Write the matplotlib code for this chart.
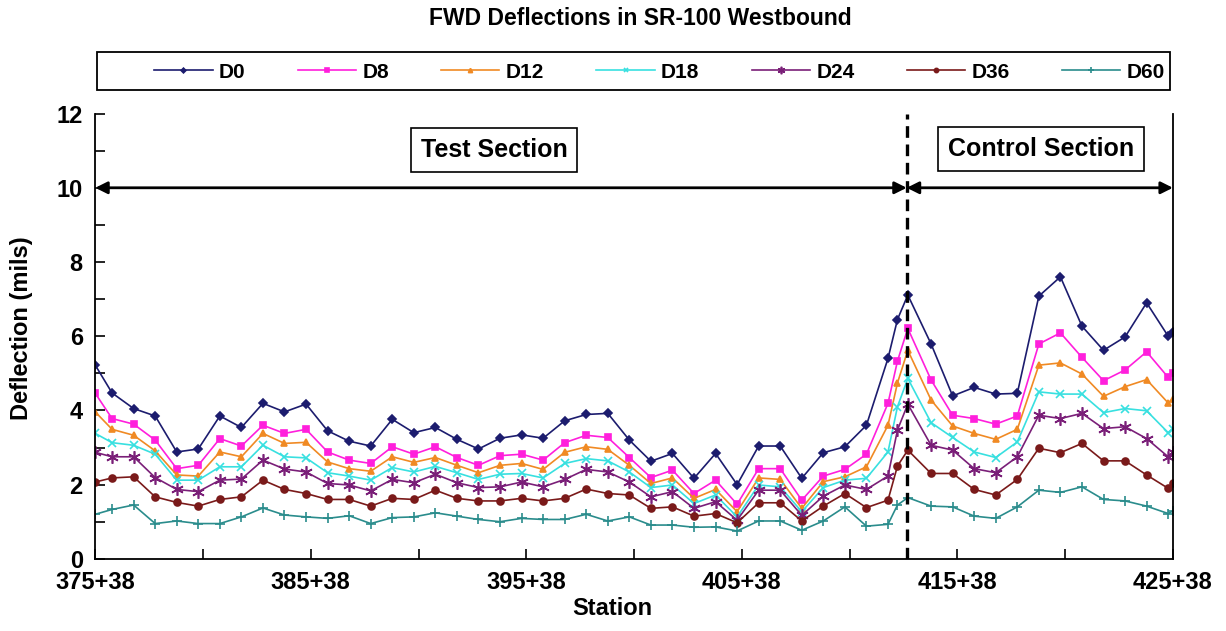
import matplotlib.pyplot as plt
from matplotlib.patches import Rectangle

plt.rcParams['font.family'] = ['Liberation Sans', 'DejaVu Sans']
plt.rcParams['font.weight'] = 'bold'

# station offsets from 375+38, in stations (100 ft)
station = [0.0, 0.78, 1.78, 2.78, 3.78, 4.78, 5.78, 6.78, 7.78, 8.78, 9.78,
           10.78, 11.78, 12.78, 13.78, 14.78, 15.78, 16.78, 17.78, 18.78, 19.78,
           20.78, 21.78, 22.78, 23.78, 24.78, 25.78, 26.78, 27.78, 28.78, 29.78,
           30.78, 31.78, 32.78, 33.78, 34.78, 35.78, 36.78, 37.22, 37.70, 38.78,
           39.78, 40.78, 41.78, 42.78, 43.78, 44.78, 45.78, 46.78, 47.78, 48.78,
           49.78, 50.0]

# deflections (mils) per sensor
d0 = [5.22, 4.47, 4.05, 3.85, 2.88, 2.96, 3.85, 3.54, 4.19,
      3.96, 4.17, 3.45, 3.17, 3.04, 3.76, 3.40, 3.54, 3.22,
      2.96, 3.25, 3.34, 3.25, 3.72, 3.89, 3.92, 3.20,
      2.63, 2.84, 2.17, 2.84, 2.00, 3.04, 3.04, 2.17,
      2.86, 3.02, 3.60, 5.40, 6.45, 7.11,
      5.79, 4.39, 4.62, 4.44,
      4.46, 7.08, 7.60, 6.27, 5.62, 5.98, 6.90, 6.00, 6.12]
d8 = [4.46, 3.78, 3.63, 3.20, 2.43, 2.52, 3.24, 3.04, 3.60,
      3.38, 3.49, 2.88, 2.66, 2.57, 3.02, 2.82, 3.02, 2.73,
      2.52, 2.78, 2.82, 2.66, 3.13, 3.33, 3.27, 2.73,
      2.19, 2.39, 1.76, 2.12, 1.47, 2.43, 2.43, 1.58,
      2.23, 2.41, 2.82, 4.19, 5.33, 6.21,
      4.82, 3.87, 3.78, 3.63,
      3.85, 5.79, 6.09, 5.43, 4.80, 5.09, 5.58, 4.89, 5.01]
d12 = [3.96, 3.49, 3.33, 2.91, 2.26, 2.23, 2.88, 2.75, 3.38,
       3.11, 3.14, 2.61, 2.43, 2.36, 2.75, 2.60, 2.73, 2.52,
       2.32, 2.52, 2.57, 2.41, 2.87, 3.02, 2.95, 2.52,
       2.03, 2.18, 1.63, 1.87, 1.27, 2.18, 2.14, 1.36,
       2.08, 2.21, 2.48, 3.60, 4.74, 5.62,
       4.28, 3.58, 3.38, 3.22,
       3.49, 5.22, 5.28, 4.98, 4.38, 4.64, 4.83, 4.20, 4.32]
d18 = [3.38, 3.13, 3.06, 2.82, 2.12, 2.12, 2.48, 2.48, 3.06,
       2.75, 2.72, 2.32, 2.23, 2.12, 2.46, 2.34, 2.49, 2.32,
       2.14, 2.28, 2.30, 2.18, 2.57, 2.70, 2.64, 2.34,
       1.92, 1.99, 1.49, 1.72, 1.13, 1.99, 1.94, 1.27,
       1.92, 2.12, 2.17, 2.88, 4.10, 4.86,
       3.67, 3.27, 2.88, 2.73,
       3.15, 4.50, 4.44, 4.44, 3.94, 4.05, 3.99, 3.40, 3.51]
d24 = [2.87, 2.75, 2.75, 2.19, 1.87, 1.81, 2.12, 2.15, 2.66,
       2.42, 2.34, 2.03, 1.99, 1.83, 2.14, 2.05, 2.28, 2.05,
       1.92, 1.94, 2.07, 1.94, 2.14, 2.41, 2.34, 2.07,
       1.67, 1.81, 1.36, 1.54, 1.04, 1.85, 1.85, 1.17,
       1.69, 1.99, 1.87, 2.23, 3.47, 4.17,
       3.06, 2.93, 2.43, 2.32,
       2.75, 3.87, 3.78, 3.92, 3.51, 3.56, 3.24, 2.75, 2.88]
d36 = [2.07, 2.18, 2.21, 1.67, 1.52, 1.42, 1.60, 1.67, 2.12,
       1.87, 1.76, 1.60, 1.60, 1.42, 1.63, 1.60, 1.85, 1.63,
       1.56, 1.56, 1.63, 1.56, 1.63, 1.88, 1.76, 1.72,
       1.36, 1.40, 1.15, 1.22, 0.97, 1.51, 1.51, 1.02,
       1.42, 1.76, 1.38, 1.58, 2.50, 2.93,
       2.30, 2.30, 1.87, 1.72,
       2.14, 2.98, 2.86, 3.11, 2.64, 2.64, 2.26, 1.90, 2.03]
d60 = [1.20, 1.33, 1.45, 0.95, 1.02, 0.95, 0.95, 1.13, 1.37,
       1.18, 1.13, 1.09, 1.16, 0.95, 1.11, 1.13, 1.24, 1.15,
       1.06, 1.00, 1.09, 1.06, 1.06, 1.20, 1.02, 1.13,
       0.91, 0.91, 0.85, 0.86, 0.75, 1.02, 1.02, 0.77,
       1.02, 1.40, 0.88, 0.93, 1.45, 1.65,
       1.42, 1.40, 1.15, 1.09,
       1.40, 1.85, 1.79, 1.94, 1.60, 1.56, 1.42, 1.22, 1.29]

sensor_names = ['D0', 'D8', 'D12', 'D18', 'D24', 'D36', 'D60']
tick_labels = ['375+38', '', '385+38', '', '395+38', '',
               '405+38', '', '415+38', '', '425+38']
section_break = 37.65

series = [
    (d0, '#1c1c6e', 'D', 4),
    (d8, '#ff1fdc', 's', 5),
    (d12, '#f08a24', '^', 5),
    (d18, '#38e0e0', 'x', 6),
    (d24, '#7a1f78', (6, 2, 0), 9),
    (d36, '#7a1a1a', 'o', 5),
    (d60, '#2a8c8c', '+', 7),
]

fig = plt.figure(figsize=(12.26, 6.31), dpi=100)
ax = fig.add_axes([0.0777, 0.1144, 0.879, 0.7056])

for (vals, color, marker, ms), name in zip(series, sensor_names):
    ax.plot(station, vals, color=color, marker=marker, markersize=ms,
            linewidth=1.2, markeredgewidth=1.2, label=name)

ax.set_xlim(0, 50)
ax.set_ylim(0, 12)
ax.set_xticks(range(0, 51, 5))
ax.set_xticklabels(tick_labels)
ax.set_yticks(range(0, 13, 2))
ax.set_yticks(range(0, 13, 1), minor=True)
ax.tick_params(axis='both', which='both', direction='in', length=7, width=1.2,
               labelsize=17)
ax.tick_params(axis='x', pad=9)
ax.tick_params(axis='y', pad=9)
ax.spines['top'].set_visible(False)
for s in ['left', 'right', 'bottom']:
    ax.spines[s].set_linewidth(1.3)

ax.set_xlabel('Station', fontsize=17, fontweight='bold')
ax.xaxis.set_label_coords(0.48, -0.085)
ax.set_ylabel('Deflection (mils)', fontsize=17, fontweight='bold')
ax.yaxis.set_label_coords(-0.058, 0.518)
fig.text(0.522, 0.971, 'FWD Deflections in SR-100 Westbound', fontsize=16.5,
         fontweight='bold', ha='center', va='center')

# section divider and extent arrows
ax.axvline(section_break, color='k', linestyle=(0, (3.5, 2)), linewidth=2.4)
arrow = dict(arrowstyle='<|-|>', color='k', lw=2, mutation_scale=18,
             shrinkA=0, shrinkB=0)
ax.annotate('', xy=(0, 10), xytext=(section_break, 10), arrowprops=arrow)
ax.annotate('', xy=(section_break, 10), xytext=(50, 10), arrowprops=arrow)

box = dict(boxstyle='square,pad=0.4', fc='white', ec='k', lw=1.2)
ax.text(18.5, 11.02, 'Test Section', ha='center', va='center',
        fontsize=18, fontweight='bold', bbox=box)
ax.text(43.86, 11.04, 'Control Section', ha='center', va='center',
        fontsize=18, fontweight='bold', bbox=box)

# legend row with its own frame across the plot width
ax.add_patch(Rectangle((0.0016, 1.053), 0.996, 0.085, transform=ax.transAxes,
                       fill=False, ec='k', lw=1.3, clip_on=False))
ax.legend(loc='lower left', bbox_to_anchor=(0.047, 1.053, 0.953, 0.085),
          mode='expand', ncol=7, frameon=False, fontsize=15,
          handlelength=2.8, handletextpad=0.3, borderaxespad=0,
          markerscale=0.6)

fig.savefig('out.png', dpi=100)
